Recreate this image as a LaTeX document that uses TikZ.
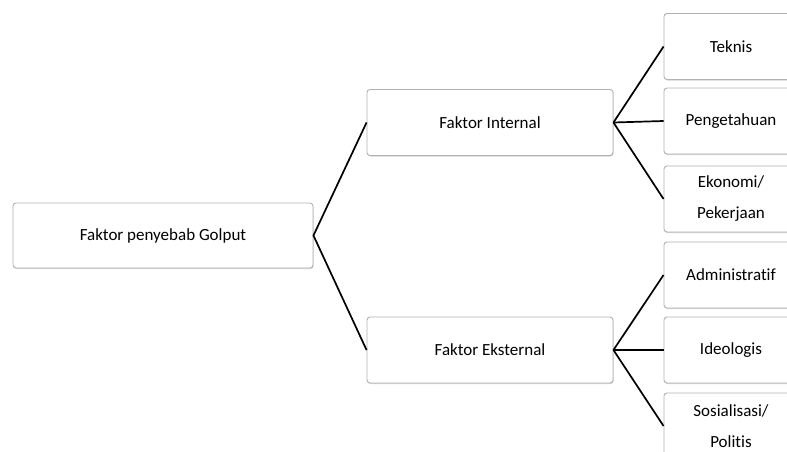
\documentclass[tikz,border=0pt]{standalone}
\usepackage{fontspec}
\setmainfont{Carlito}[Ligatures=CommonOff]
\usetikzlibrary{positioning,shadows}
\tikzset{
    rootbox/.style={draw=gray!60, line width=0.9pt, rectangle, rounded corners=3pt, fill=white, drop shadow={opacity=0.35, shadow xshift=0.6pt, shadow yshift=-1pt}, minimum width=300pt, minimum height=65pt, align=center, font=\fontsize{17}{31}\selectfont},
    midbox/.style={draw=gray!60, line width=0.9pt, rectangle, rounded corners=3pt, fill=white, drop shadow={opacity=0.35, shadow xshift=0.6pt, shadow yshift=-1pt}, minimum width=246pt, minimum height=66pt, align=center, font=\fontsize{17}{31}\selectfont},
    leafbox/.style={draw=gray!60, line width=0.9pt, rectangle, rounded corners=3pt, fill=white, drop shadow={opacity=0.35, shadow xshift=0.6pt, shadow yshift=-1pt}, minimum width=134pt, minimum height=66pt, align=center, font=\fontsize{17}{31}\selectfont},
    branch/.style={line width=1.7pt, black},
}

\begin{document}
\begin{tikzpicture}[x=1pt, y=-1pt]
\useasboundingbox (0,0) rectangle (787,452);
\clip (0,0) rectangle (787,452);

\node[rootbox] (golput) at (163, 235.5) {Faktor penyebab Golput};

\node[midbox] (internal) at (490, 122.5) {Faktor Internal};
\node[midbox] (eksternal) at (490, 350) {Faktor Eksternal};

\node[leafbox] (teknis) at (731, 46.5) {Teknis};
\node[leafbox] (pengetahuan) at (731, 121) {Pengetahuan};
\node[leafbox] (ekonomi) at (731, 199) {Ekonomi/\\Pekerjaan};
\node[leafbox] (admin) at (731, 275) {Administratif};
\node[leafbox] (ideologis) at (731, 350) {Ideologis};
\node[leafbox] (sosialisasi) at (731, 426) {Sosialisasi/\\Politis};

\draw[branch] (internal.west) -- (golput.east) -- (eksternal.west);

\foreach \leaf in {teknis, pengetahuan, ekonomi}
    \draw[branch] (internal.east) -- (\leaf.west);
\foreach \leaf in {admin, ideologis, sosialisasi}
    \draw[branch] (eksternal.east) -- (\leaf.west);

\end{tikzpicture}
\end{document}
